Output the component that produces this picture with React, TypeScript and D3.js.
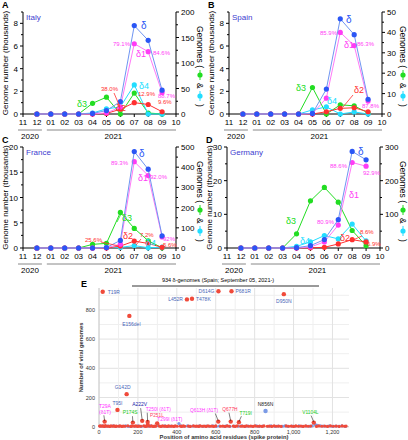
import React from "react";
import * as d3 from "d3";

const months = ["11", "12", "01", "02", "03", "04", "05", "06", "07", "08", "09", "10"];
const dataMonths = ["12", "01", "02", "03", "04", "05", "06", "07", "08", "09"];

// Italy
const italyDelta = [0, 0, 0, 0, 0.05, 0.3, 1.1, 7.8, 6.5, 2.1];
const italyDelta1 = [0, 0, 0, 0, 0, 0.1, 0.6, 6.2, 5.5, 1.9];
const italyDelta2 = [0, 0, 0, 0, 0, 0.05, 0.42, 1.0, 0.84, 0.2];
const italyDelta3 = [0, 0, 0, 0, 21, 33, 0, 41, 2, 0];
const italyDelta4 = [0, 0, 0, 0, 2, 10, 14, 57, 0, 0];
// Spain
const spainDelta = [0, 0, 0, 0, 0, 0.05, 2.2, 8.4, 7.0, 1.3];
const spainDelta1 = [0, 0, 0, 0, 0, 0.03, 1.4, 7.2, 6.04, 1.14];
const spainDelta2 = [0, 0, 0, 0, 0, 0, 0.2, 0.5, 0.55, 0.2];
const spainDelta3 = [0, 0, 0, 0, 0, 13, 0, 4.5, 4, 0.5];
const spainDelta4 = [0, 0, 0, 0, 0, 2, 3.5, 0, 1, 0];
// France
const franceDelta = [0, 0, 0, 0, 0, 0.1, 1.5, 19.1, 15.6, 2.4];
const franceDelta1 = [0, 0, 0, 0, 0, 0.05, 0.75, 17.1, 14.35, 2.2];
const franceDelta2 = [0, 0, 0, 0, 0, 0, 0.38, 1.37, 0.9, 0.13];
const franceDelta3 = [0, 0, 0, 0, 18, 23, 176, 97, 36, 1];
const franceDelta4 = [0, 0, 0, 0, 0, 2, 3, 12, 1, 4];
// Germany
const germanyDelta = [0, 0, 0, 0, 0.1, 0.7, 2.5, 8.4, 28.7, 26.2];
const germanyDelta1 = [0, 0, 0, 0, 0, 0.3, 1.8, 6.8, 25.4, 24.3];
const germanyDelta2 = [0, 0, 0, 0, 0, 0.05, 0.2, 1.2, 2.47, 1.8];
const germanyDelta3 = [0, 0, 0, 0, 42, 140, 180, 136, 52, 7];
const germanyDelta4 = [0, 0, 0, 0, 5, 18, 37, 27, 71, 21];

// Panel E: labelled mutations [position, genomes, label]
const eLabelled: [number, number, string][] = [
  [19, 924, "T19R"],
  [156, 759, "E156del"],
  [142, 223, "G142D"],
  [452, 872, "L452R"],
  [478, 876, "T478K"],
  [614, 928, "D614G"],
  [681, 928, "P681R"],
  [950, 908, "D950N"],
  [95, 115, "T95I"],
  [29, 35, "T29A (δ1T)"],
  [174, 28, "P174S"],
  [222, 40, "A222V"],
  [250, 32, "T250I (δ1T)"],
  [251, 10, "P251L"],
  [299, 23, "T299I (δ1T)"],
  [613, 35, "Q613H (δ1T)"],
  [677, 35, "Q677H"],
  [719, 30, "T719I"],
  [1104, 28, "V1104L"],
];
const eBlueLabelled: [number, number, string][] = [[856, 108, "N856N"]];
const eRedLow: [number, number][] = [
  [3, 4], [8, 6], [14, 3], [21, 5], [27, 2], [33, 7], [40, 3], [48, 4], [55, 2], [62, 5], [70, 3], [77, 6], [84, 2], [90, 4], [101, 3], [108, 5], [117, 2], [125, 4], [133, 3], [148, 6], [163, 2], [170, 4], [181, 3], [190, 5], [198, 2], [206, 4], [214, 3], [230, 5], [239, 2], [245, 4], [262, 3], [270, 5], [278, 2], [286, 4], [292, 3], [310, 4], [318, 2], [327, 5], [335, 3], [342, 4], [350, 2], [358, 5], [366, 3], [375, 4], [384, 2], [392, 5], [402, 3], [418, 4], [425, 2], [433, 5], [441, 3], [460, 4], [470, 2], [486, 5], [495, 3], [503, 4], [512, 2], [520, 5], [530, 3], [540, 4], [550, 2], [560, 5], [570, 3], [580, 4], [590, 2], [600, 5], [625, 3], [636, 4], [648, 2], [660, 5], [670, 3], [690, 4], [700, 2], [710, 5], [728, 3], [738, 4], [748, 2], [758, 5], [770, 3], [780, 4], [792, 2], [802, 5], [815, 3], [826, 4], [838, 2], [848, 5], [865, 3], [876, 4], [888, 2], [900, 5], [912, 3], [924, 4], [936, 2], [962, 5], [975, 3], [988, 4], [1000, 2], [1012, 5], [1025, 3], [1038, 4], [1050, 2], [1062, 5], [1075, 3], [1088, 4], [1118, 2], [1130, 5], [1145, 3], [1160, 4], [1175, 2], [1190, 5], [1205, 3], [1220, 4], [1235, 2], [1250, 5], [1262, 3], [1270, 4],
];
const eBlueLow: [number, number][] = [
  [6, 3], [17, 5], [31, 2], [44, 4], [58, 3], [73, 5], [88, 2], [104, 4], [120, 3], [137, 5], [152, 2], [167, 4], [185, 3], [201, 5], [218, 2], [235, 4], [255, 3], [266, 5], [283, 2], [305, 8], [322, 3], [338, 5], [355, 2], [371, 4], [388, 3], [411, 22], [422, 6], [437, 3], [455, 5], [466, 2], [482, 4], [499, 3], [516, 5], [534, 2], [551, 4], [567, 3], [585, 5], [603, 2], [619, 4], [642, 3], [655, 5], [673, 2], [694, 4], [716, 3], [733, 5], [752, 2], [766, 4], [786, 3], [808, 5], [823, 2], [842, 4], [870, 3], [884, 5], [905, 2], [920, 4], [944, 3], [956, 5], [970, 2], [992, 4], [1008, 3], [1028, 5], [1046, 2], [1066, 4], [1082, 3], [1096, 5], [1112, 14], [1122, 9], [1138, 6], [1152, 4], [1168, 3], [1184, 5], [1200, 2], [1216, 4], [1232, 3], [1248, 5], [1266, 2],
];
const eYTicks = [0, 200, 400, 600, 800];
const eXTicks = [0, 200, 400, 600, 800, 1000, 1200];

const FONT = "Liberation Sans, Arial, Helvetica, sans-serif";
const C_BLUE = "#2a56f5";
const C_BLUE_L = "#6f95f2";
const C_MAG = "#ff3cf5";
const C_MAG_L = "#ff7af7";
const C_RED = "#ff3030";
const C_GREEN = "#22dd22";
const C_CYAN = "#22ddff";
const C_TITLE = "#4040d0";

type Ann = { t: string; x: number; y: number; c: string; s?: number; a?: string };
type Seg = [number, number, number, number, string];

type PanelProps = {
  letter: string;
  name: string;
  left: number;
  right: number;
  top: number;
  bottom: number;
  lMax: number;
  lTicks: number[];
  lMinor: number[];
  rMax: number;
  rTicks: number[];
  rMinor: number[];
  rOff: number;
  delta: number[];
  delta1: number[];
  delta2: number[];
  delta3: number[];
  delta4: number[];
  anns: Ann[];
  segs: Seg[];
};

function Panel(p: PanelProps) {
  const x = d3.scalePoint<string>().domain(months).range([p.left, p.right]);
  const yl = d3.scaleLinear().domain([0, p.lMax]).range([p.bottom, p.top]);
  const yr = d3.scaleLinear().domain([0, p.rMax]).range([p.bottom, p.top]);
  const series = [
    { v: p.delta3, y: yr, c: C_GREEN, lc: C_GREEN },
    { v: p.delta4, y: yr, c: C_CYAN, lc: C_CYAN },
    { v: p.delta2, y: yl, c: C_RED, lc: C_RED },
    { v: p.delta1, y: yl, c: C_MAG, lc: C_MAG_L },
    { v: p.delta, y: yl, c: C_BLUE, lc: C_BLUE_L },
  ];
  const midY = (p.top + p.bottom) / 2;
  const yearY = p.bottom + 16;
  return (
    <g fontFamily={FONT}>
      <text x={p.left - 21} y={p.top - 4} fontSize={9} fontWeight="bold">{p.letter}</text>
      <line x1={p.left} x2={p.left} y1={p.top} y2={p.bottom} stroke="#000" strokeWidth={1} />
      <line x1={p.right} x2={p.right} y1={p.top} y2={p.bottom} stroke="#000" strokeWidth={1} />
      <line x1={p.left} x2={p.right} y1={p.bottom} y2={p.bottom} stroke="#000" strokeWidth={1} />
      {p.lTicks.map((t) => (
        <g key={"l" + t}>
          <line x1={p.left - 3} x2={p.left} y1={yl(t)} y2={yl(t)} stroke="#000" />
          <text x={p.left - 5} y={yl(t) + 3} fontSize={8} textAnchor="end">{t}</text>
        </g>
      ))}
      {p.lMinor.map((t) => (
        <line key={"lm" + t} x1={p.left - 2} x2={p.left} y1={yl(t)} y2={yl(t)} stroke="#000" />
      ))}
      {p.rTicks.map((t) => (
        <g key={"r" + t}>
          <line x1={p.right} x2={p.right + 3} y1={yr(t)} y2={yr(t)} stroke="#000" />
          <text x={p.right + 5} y={yr(t) + 3} fontSize={8}>{t}</text>
        </g>
      ))}
      {p.rMinor.map((t) => (
        <line key={"rm" + t} x1={p.right} x2={p.right + 2} y1={yr(t)} y2={yr(t)} stroke="#000" />
      ))}
      {months.map((m) => (
        <g key={"m" + m}>
          <line x1={x(m)} x2={x(m)} y1={p.bottom} y2={p.bottom + 3} stroke="#000" />
          <text x={x(m)} y={p.bottom + 11} fontSize={8} textAnchor="middle">{m}</text>
        </g>
      ))}
      <line x1={(x("11") as number) - 5} x2={(x("12") as number) + 5} y1={yearY} y2={yearY} stroke="#888" strokeWidth={1} />
      <line x1={(x("01") as number) - 4} x2={p.right} y1={yearY} y2={yearY} stroke="#888" strokeWidth={1} />
      <text x={((x("11") as number) + (x("12") as number)) / 2} y={yearY + 9} fontSize={8} textAnchor="middle">2020</text>
      <text x={((x("01") as number) + p.right) / 2} y={yearY + 9} fontSize={8} textAnchor="middle">2021</text>
      <text transform={`translate(${p.left - 15},${midY}) rotate(-90)`} fontSize={8} textAnchor="middle">Genome number (thousands)</text>
      <g transform={`translate(${p.right + p.rOff},${p.top + 14}) rotate(90)`}>
        <text x={0} y={0} fontSize={8.5}>Genomes (</text>
        <line x1={44} x2={54} y1={-3} y2={-3} stroke={C_GREEN} strokeWidth={1} />
        <circle cx={49} cy={-3} r={2.6} fill={C_GREEN} />
        <text x={57} y={0} fontSize={8.5}>&amp;</text>
        <line x1={65} x2={75} y1={-3} y2={-3} stroke={C_CYAN} strokeWidth={1} />
        <circle cx={70} cy={-3} r={2.6} fill={C_CYAN} />
        <text x={78} y={0} fontSize={8.5}>)</text>
      </g>
      <text x={p.left + 3} y={p.top + 8} fontSize={8} fill={C_TITLE}>{p.name}</text>
      {series.map((s, i) => {
        const line = d3
          .line<number>()
          .x((_, j) => x(dataMonths[j]) as number)
          .y((v) => s.y(v));
        return (
          <g key={"s" + i}>
            <path d={line(s.v) || ""} fill="none" stroke={s.lc} strokeWidth={1} />
            {s.v.map((v, j) => (
              <circle key={j} cx={x(dataMonths[j])} cy={s.y(v)} r={2.6} fill={s.c} />
            ))}
          </g>
        );
      })}
      {p.segs.map((s, i) => (
        <line key={"g" + i} x1={s[0]} y1={s[1]} x2={s[2]} y2={s[3]} stroke={s[4]} strokeWidth={0.8} />
      ))}
      {p.anns.map((a, i) => (
        <text key={"a" + i} x={a.x} y={a.y} fontSize={a.s || 6} fill={a.c} textAnchor={a.a || "start"}>{a.t}</text>
      ))}
    </g>
  );
}

function PanelE() {
  const left = 99, right = 349, top = 288, bottom = 426.7;
  const x = d3.scaleLinear().domain([0, 1285]).range([left, right]);
  const y = d3.scaleLinear().domain([0, 950]).range([bottom, top]);
  const gridY = d3.range(0, 1000, 100);
  const gridX = d3.range(0, 1300, 100);
  const lblOff: Record<string, [number, number, string, string]> = {
    "T19R": [5, 2, "#4a66b8", "start"],
    "E156del": [2, 10, "#4a66b8", "middle"],
    "G142D": [-4, -5, "#4a66b8", "middle"],
    "L452R": [-4, 2, "#4a66b8", "end"],
    "T478K": [4, 2, "#4a66b8", "start"],
    "D614G": [-4, 2, "#4a66b8", "end"],
    "P681R": [4, 2, "#4a66b8", "start"],
    "D950N": [0, 9, "#4a66b8", "middle"],
    "T95I": [0, -5, "#4a66b8", "middle"],
  };
  return (
    <g fontFamily={FONT}>
      <text x={81} y={287} fontSize={9} fontWeight="bold">E</text>
      <text x={218} y={282} fontSize={5.5} textAnchor="middle">934 δ-genomes (Spain; September 05, 2021-)</text>
      <line x1={132} x2={319} y1={286} y2={286} stroke="#000" strokeWidth={0.8} />
      {gridY.map((g) => (
        <line key={"gy" + g} x1={left} x2={right} y1={y(g)} y2={y(g)} stroke={g % 200 === 0 ? "#e2e2e2" : "#efefef"} strokeWidth={1} />
      ))}
      {gridX.map((g) => (
        <line key={"gx" + g} x1={x(g)} x2={x(g)} y1={top} y2={bottom} stroke={g % 200 === 0 ? "#e2e2e2" : "#efefef"} strokeWidth={1} />
      ))}
      <line x1={left} x2={left} y1={top} y2={bottom} stroke="#ccc" />
      <line x1={left} x2={right} y1={bottom} y2={bottom} stroke="#ccc" />
      {eYTicks.map((t) => (
        <text key={"yt" + t} x={left - 4} y={y(t) + 2} fontSize={5.5} textAnchor="end" fill="#333">{t}</text>
      ))}
      {eXTicks.map((t) => (
        <text key={"xt" + t} x={x(t)} y={bottom + 7} fontSize={5.5} textAnchor="middle" fill="#333">{d3.format(",")(t)}</text>
      ))}
      <text transform={`translate(${left - 16},${(top + bottom) / 2}) rotate(-90)`} fontSize={5.8} textAnchor="middle" fontWeight="bold" fill="#333">Number of viral genomes</text>
      <text x={(left + right) / 2} y={bottom + 12.5} fontSize={5.8} textAnchor="middle" fontWeight="bold" fill="#333">Position of amino acid residues (spike protein)</text>
      {eBlueLow.map((d, i) => (
        <circle key={"bl" + i} cx={x(d[0])} cy={y(d[1])} r={1.6} fill="#7b9be6" />
      ))}
      {eRedLow.map((d, i) => (
        <circle key={"rl" + i} cx={x(d[0])} cy={y(d[1])} r={1.6} fill="#f04a3a" />
      ))}
      {eBlueLabelled.map((d, i) => (
        <g key={"bL" + i}>
          <circle cx={x(d[0])} cy={y(d[1])} r={2.2} fill="#7b9be6" />
          <text x={x(d[0])} y={y(d[1]) - 5} fontSize={5} textAnchor="middle" fill="#222">{d[2]}</text>
        </g>
      ))}
      {eLabelled.map((d, i) => {
        const px = x(d[0]), py = y(d[1]);
        const o = lblOff[d[2]];
        return (
          <g key={"L" + i}>
            <circle cx={px} cy={py} r={2.2} fill="#f04a3a" />
            {o && (
              <text x={px + o[0]} y={py + o[1]} fontSize={5} textAnchor={o[3]} fill={o[2]}>{d[2]}</text>
            )}
          </g>
        );
      })}
      <text x={x(0)} y={y(130)} fontSize={5} fill="#ff33ff">T29A</text>
      <text x={x(0)} y={y(90)} fontSize={5} fill="#ff33ff">(δ1T)</text>
      <line x1={x(25)} y1={y(78)} x2={x(29)} y2={y(40)} stroke="#000" strokeWidth={0.5} />
      <text x={x(168) - 9} y={y(85)} fontSize={5} fill="#22cc22">P174S</text>
      <line x1={x(172)} y1={y(72)} x2={x(174)} y2={y(33)} stroke="#000" strokeWidth={0.5} />
      <text x={x(222) - 10} y={y(140)} fontSize={5} fill="#2222aa">A222V</text>
      <line x1={x(214)} y1={y(127)} x2={x(222)} y2={y(45)} stroke="#000" strokeWidth={0.5} />
      <text x={x(240)} y={y(106)} fontSize={4.8} fill="#ff33ff">T250I (δ1T)</text>
      <line x1={x(248)} y1={y(96)} x2={x(250)} y2={y(37)} stroke="#000" strokeWidth={0.5} />
      <text x={x(262)} y={y(68)} fontSize={4.8} fill="#ff4466">P251L</text>
      <text x={x(300)} y={y(36)} fontSize={4.8} fill="#ff33ff">T299I (δ1T)</text>
      <text x={x(468)} y={y(100)} fontSize={4.8} fill="#ff33ff">Q613H (δ1T)</text>
      <line x1={x(598)} y1={y(90)} x2={x(613)} y2={y(40)} stroke="#000" strokeWidth={0.5} />
      <text x={x(634)} y={y(108)} fontSize={4.8} fill="#ff3355">Q677H</text>
      <line x1={x(668)} y1={y(96)} x2={x(677)} y2={y(40)} stroke="#000" strokeWidth={0.5} />
      <text x={x(722)} y={y(82)} fontSize={4.8} fill="#22cc22">T719I</text>
      <line x1={x(732)} y1={y(72)} x2={x(719)} y2={y(34)} stroke="#000" strokeWidth={0.5} />
      <text x={x(1045)} y={y(88)} fontSize={4.8} fill="#22cc22">V1104L</text>
      <line x1={x(1090)} y1={y(76)} x2={x(1104)} y2={y(33)} stroke="#000" strokeWidth={0.5} />
    </g>
  );
}

const annsA: Ann[] = [
  { t: "δ", x: 141, y: 29, c: C_BLUE, s: 10 },
  { t: "79.1%", x: 130, y: 46, c: C_MAG, a: "end" },
  { t: "δ1", x: 136, y: 57, c: C_MAG, s: 9 },
  { t: "84.6%", x: 153, y: 55, c: C_MAG },
  { t: "88.7%", x: 158, y: 98, c: C_MAG },
  { t: "38.0%", x: 101, y: 91, c: C_RED },
  { t: "12.9%", x: 138, y: 96, c: C_RED },
  { t: "9.6%", x: 158, y: 104, c: C_RED },
  { t: "δ3", x: 77, y: 107, c: C_GREEN, s: 9 },
  { t: "δ4", x: 139, y: 89, c: C_CYAN, s: 9 },
  { t: "δ2", x: 116, y: 111, c: C_RED, s: 9 },
];
const segsA: Seg[] = [[114, 93, 120, 107, C_RED]];
const annsB: Ann[] = [
  { t: "δ", x: 346, y: 23, c: C_BLUE, s: 10 },
  { t: "85.9%", x: 337, y: 35, c: C_MAG, a: "end" },
  { t: "δ1", x: 344, y: 48, c: C_MAG, s: 9 },
  { t: "86.3%", x: 357, y: 46, c: C_MAG },
  { t: "87.8%", x: 362, y: 108, c: C_MAG },
  { t: "δ3", x: 296, y: 91, c: C_GREEN, s: 9 },
  { t: "δ4", x: 327, y: 104, c: C_CYAN, s: 9 },
  { t: "δ2", x: 354, y: 93, c: C_RED, s: 9 },
];
const segsB: Seg[] = [[353, 95, 343, 107, C_RED]];
const annsC: Ann[] = [
  { t: "δ", x: 139, y: 157, c: C_BLUE, s: 10 },
  { t: "89.3%", x: 128, y: 165, c: C_MAG, a: "end" },
  { t: "δ1", x: 138, y: 181, c: C_MAG, s: 9 },
  { t: "92.0%", x: 150, y: 179, c: C_MAG },
  { t: "δ3", x: 122, y: 221, c: C_GREEN, s: 9 },
  { t: "25.6%", x: 85, y: 242, c: C_RED },
  { t: "δ2", x: 123, y: 239, c: C_RED, s: 9 },
  { t: "7.2%", x: 140, y: 237, c: C_RED },
  { t: "δ4", x: 146, y: 246, c: C_CYAN, s: 9 },
  { t: "92%", x: 163, y: 241, c: C_MAG },
  { t: "5.6%", x: 163, y: 247, c: C_RED },
];
const segsC: Seg[] = [
  [101, 242, 119, 246, C_RED],
  [141, 239, 136, 245, C_RED],
  [117, 222, 121, 214, C_GREEN],
];
const annsD: Ann[] = [
  { t: "δ", x: 358, y: 155, c: C_BLUE, s: 10 },
  { t: "88.6%", x: 347, y: 168, c: C_MAG, a: "end" },
  { t: "92.9%", x: 363, y: 175, c: C_MAG },
  { t: "δ1", x: 349, y: 198, c: C_MAG, s: 9 },
  { t: "80.9%", x: 334, y: 224, c: C_MAG, a: "end" },
  { t: "8.6%", x: 360, y: 234, c: C_RED },
  { t: "6.9%", x: 367, y: 246, c: C_RED },
  { t: "δ4", x: 300, y: 244, c: C_CYAN, s: 9 },
  { t: "δ2", x: 340, y: 241, c: C_RED, s: 9 },
  { t: "δ3", x: 286, y: 224, c: C_GREEN, s: 9 },
];
const segsD: Seg[] = [[362, 236, 353, 240, C_RED]];

export default function App() {
  return (
    <svg width={408} height={440} style={{ position: "absolute", left: 0, top: 0, background: "#fff" }}>
      <Panel letter="A" name="Italy" left={23} right={176} top={12} bottom={114} lMax={9} lTicks={[0, 2, 4, 6, 8]} lMinor={[1, 3, 5, 7, 9]} rMax={200} rTicks={[0, 50, 100, 150, 200]} rMinor={[25, 75, 125, 175]} rOff={21} delta={italyDelta} delta1={italyDelta1} delta2={italyDelta2} delta3={italyDelta3} delta4={italyDelta4} anns={annsA} segs={segsA} />
      <Panel letter="B" name="Spain" left={229} right={382} top={12} bottom={114} lMax={9} lTicks={[0, 2, 4, 6, 8]} lMinor={[1, 3, 5, 7, 9]} rMax={50} rTicks={[0, 10, 20, 30, 40, 50]} rMinor={[5, 15, 25, 35, 45]} rOff={18} delta={spainDelta} delta1={spainDelta1} delta2={spainDelta2} delta3={spainDelta3} delta4={spainDelta4} anns={annsB} segs={segsB} />
      <Panel letter="C" name="France" left={23} right={176} top={147} bottom={248} lMax={20} lTicks={[0, 5, 10, 15, 20]} lMinor={[2.5, 7.5, 12.5, 17.5]} rMax={500} rTicks={[0, 100, 200, 300, 400, 500]} rMinor={[50, 150, 250, 350, 450]} rOff={21} delta={franceDelta} delta1={franceDelta1} delta2={franceDelta2} delta3={franceDelta3} delta4={franceDelta4} anns={annsC} segs={segsC} />
      <Panel letter="D" name="Germany" left={227} right={380} top={147} bottom={248} lMax={30} lTicks={[0, 10, 20, 30]} lMinor={[5, 15, 25]} rMax={300} rTicks={[0, 100, 200, 300]} rMinor={[50, 150, 250]} rOff={20} delta={germanyDelta} delta1={germanyDelta1} delta2={germanyDelta2} delta3={germanyDelta3} delta4={germanyDelta4} anns={annsD} segs={segsD} />
      <PanelE />
    </svg>
  );
}
